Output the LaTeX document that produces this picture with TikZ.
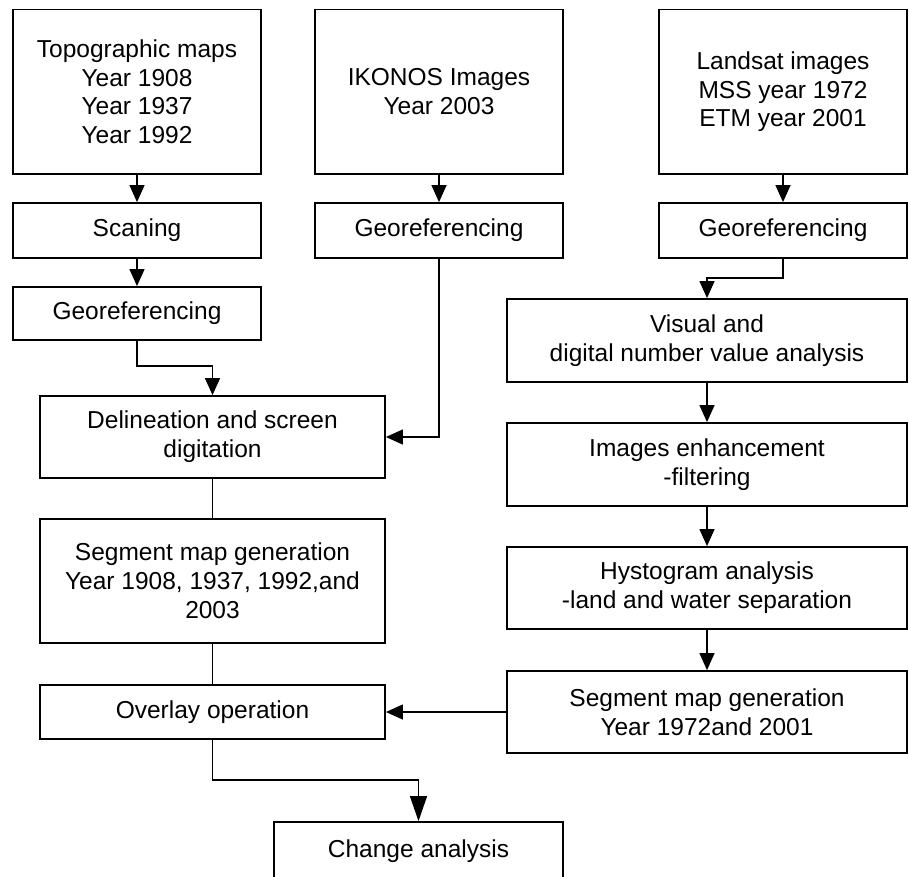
\documentclass[tikz,border=0pt]{standalone}
\usepackage{fontspec}
\setmainfont{Liberation Sans}
\usetikzlibrary{arrows.meta}
\begin{document}
\begin{tikzpicture}[x=1pt,y=-1pt,
  box/.style={draw=black,line width=1.8pt,inner sep=0pt,align=center,
    font=\fontsize{24.5pt}{28.8pt}\selectfont},
  conn/.style={draw=black,line width=1.3pt},
  arr/.style={conn,-{Triangle[length=17pt,width=15pt]}},
  bigarr/.style={conn,-{Triangle[length=25pt,width=17pt]}}]
\useasboundingbox (0,0) rectangle (909,876);
\clip (0,0) rectangle (909,876);
\fill[white] (0,0) rectangle (909,876);
% top row
\node[box,minimum width=248pt,minimum height=164.5pt] (topo) at (137,91.75) {Topographic maps\\Year 1908\\Year 1937\\Year 1992};
\node[box,minimum width=248pt,minimum height=164.5pt] (ikonos) at (439,91.75) {IKONOS Images\\Year 2003};
\node[box,minimum width=248pt,minimum height=164.5pt] (landsat) at (783,91.75) {Landsat images\\MSS year 1972\\ETM year 2001};
% second row
\node[box,minimum width=248pt,minimum height=55pt] (scan) at (137,230.5) {Scaning};
\node[box,minimum width=248pt,minimum height=55pt] (geoI) at (439,230.5) {Georeferencing};
\node[box,minimum width=248pt,minimum height=55pt] (geoL) at (783,230.5) {Georeferencing};
\node[box,minimum width=248pt,minimum height=53pt] (geoT) at (137,313.5) {Georeferencing};
% right column
\node[box,minimum width=400pt,minimum height=83pt] (visual) at (707,340.5) {Visual and\\digital number value analysis};
\node[box,minimum width=400pt,minimum height=83pt] (enh) at (707,464.5) {Images enhancement\\-filtering};
\node[box,minimum width=400pt,minimum height=82pt] (hist) at (707,588) {Hystogram analysis\\-land and water separation};
\node[box,minimum width=400pt,minimum height=82pt] (seg2) at (707,712) {Segment map generation\\Year 1972and 2001};
% left column
\node[box,minimum width=345pt,minimum height=82pt] (delin) at (212.5,437) {Delineation and screen\\digitation};
\node[box,minimum width=345pt,minimum height=124pt] (seg1) at (212.5,581) {Segment map generation\\Year 1908, 1937, 1992,and\\2003};
\node[box,minimum width=345pt,minimum height=54pt] (overlay) at (212.5,712) {Overlay operation};
\node[box,minimum width=289pt,minimum height=58pt] (change) at (418.5,851) {Change analysis};
% connectors
\draw[arr] (topo.south) -- (scan.north);
\draw[arr] (scan.south) -- (geoT.north);
\draw[arr] (ikonos.south) -- (geoI.north);
\draw[arr] (landsat.south) -- (geoL.north);
\coordinate (e1) at (137,366);
\draw[arr] (geoT.south) -- (e1) -| (delin.north);
\draw[arr] (geoI.south) |- (delin.east);
\coordinate (e2) at (783,278);
\draw[arr] (geoL.south) -- (e2) -| (visual.north);
\draw[arr] (visual.south) -- (enh.north);
\draw[arr] (enh.south) -- (hist.north);
\draw[arr] (hist.south) -- (seg2.north);
\draw[conn] (delin.south) -- (seg1.north);
\draw[conn] (seg1.south) -- (overlay.north);
\draw[arr] (seg2.west) -- (overlay.east);
\coordinate (e3) at (212.5,780);
\draw[bigarr] (overlay.south) -- (e3) -| (change.north);
\end{tikzpicture}
\end{document}
